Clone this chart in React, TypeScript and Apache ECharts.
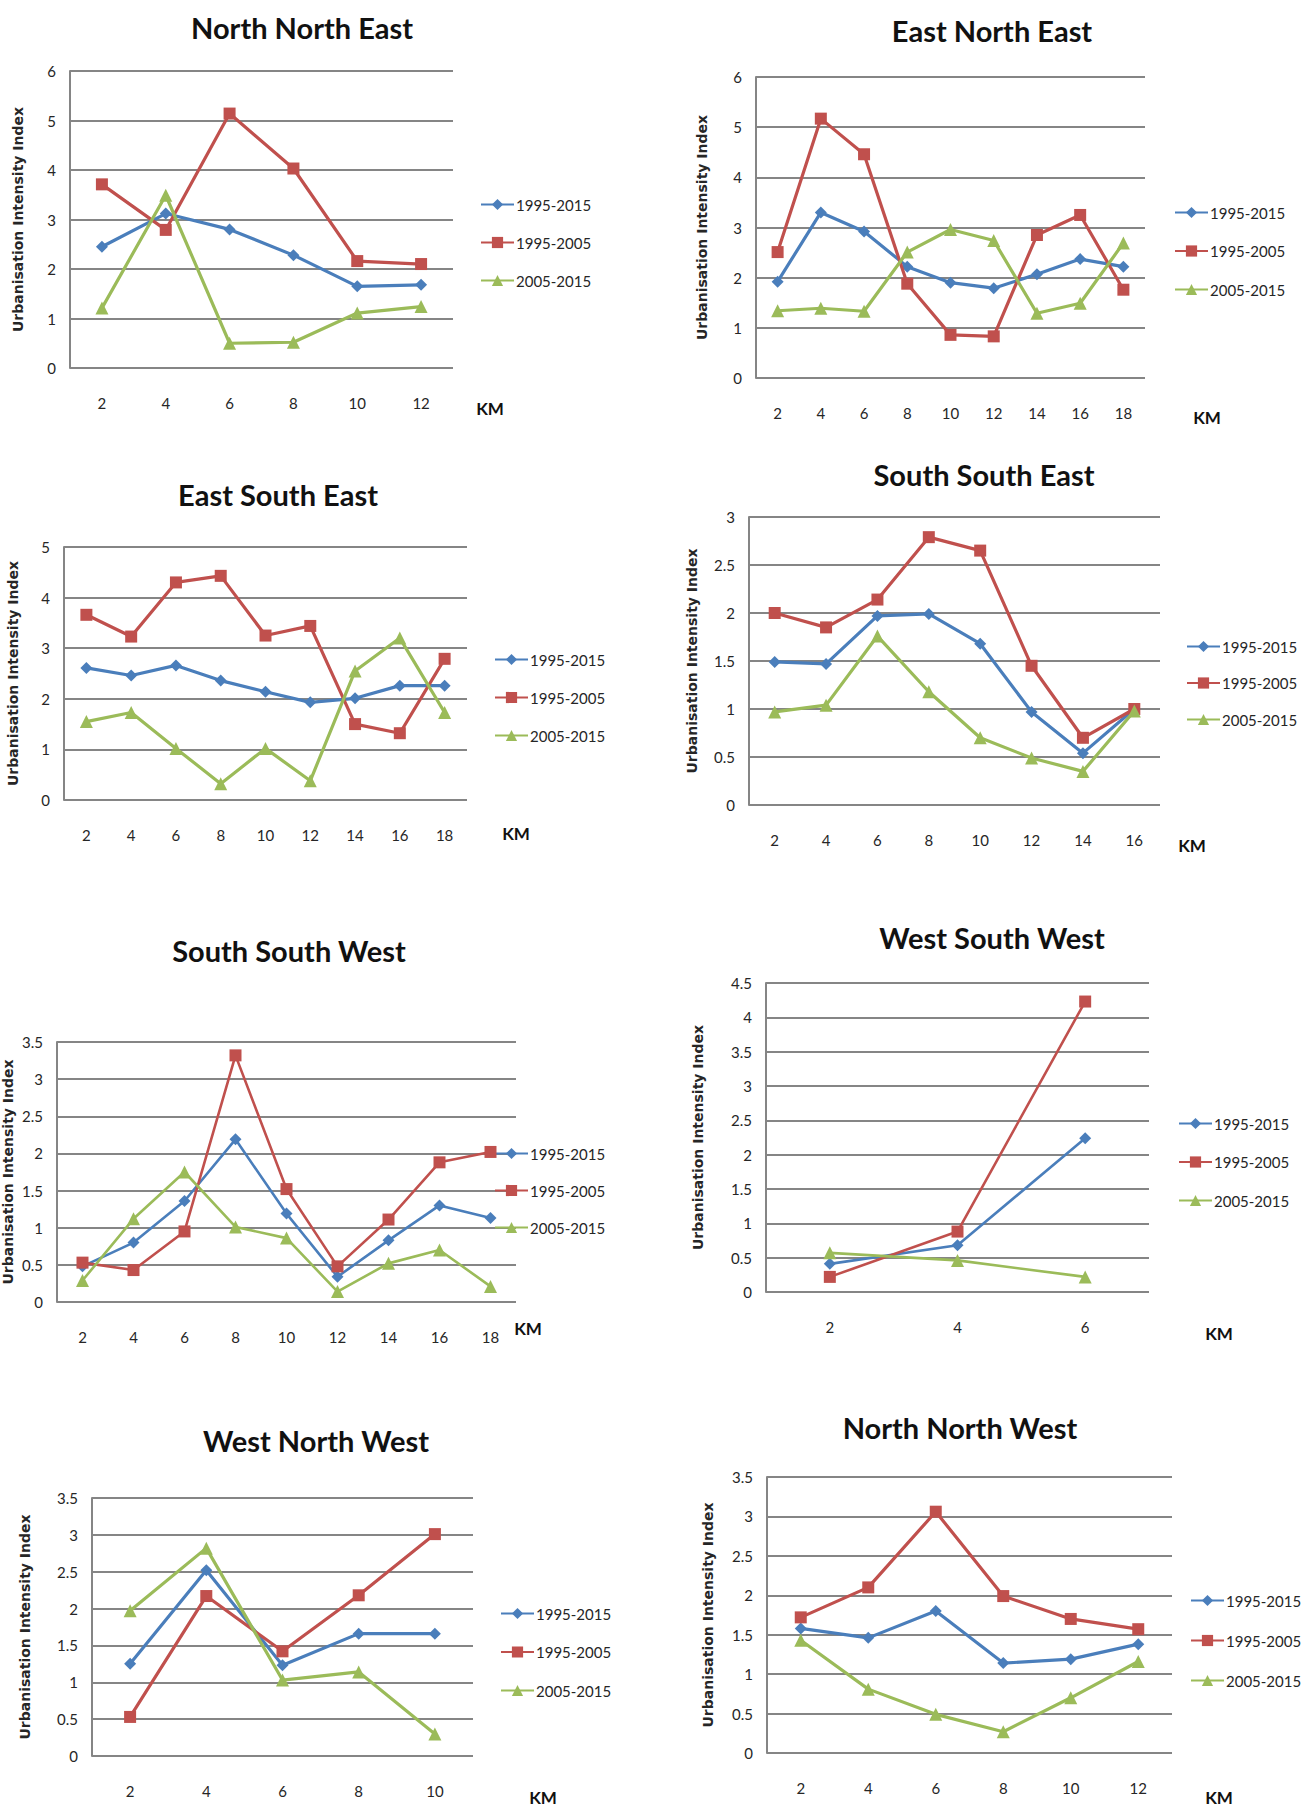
import React, { useEffect, useRef } from "react";
import * as echarts from "echarts";

// Legend / series names shared by every panel
const PERIODS = ["1995-2015", "1995-2005", "2005-2015"];
const COLORS = ["#4A7EBB", "#C0504D", "#9BBB59"];
const SYMBOLS = ["diamond", "rect", "triangle"];
const SYMBOL_SIZES = [12, 12, 13];

// North North East
const kmNNE = ["2", "4", "6", "8", "10", "12"];
const nne9515 = [2.45, 3.12, 2.8, 2.28, 1.65, 1.68];
const nne9505 = [3.71, 2.79, 5.14, 4.03, 2.16, 2.1];
const nne0515 = [1.21, 3.49, 0.5, 0.52, 1.11, 1.24];

// East North East
const kmENE = ["2", "4", "6", "8", "10", "12", "14", "16", "18"];
const ene9515 = [1.92, 3.3, 2.92, 2.22, 1.9, 1.79, 2.07, 2.37, 2.22];
const ene9505 = [2.51, 5.17, 4.46, 1.88, 0.86, 0.83, 2.85, 3.25, 1.76];
const ene0515 = [1.34, 1.39, 1.33, 2.51, 2.96, 2.74, 1.29, 1.49, 2.69];

// East South East
const kmESE = ["2", "4", "6", "8", "10", "12", "14", "16", "18"];
const ese9515 = [2.61, 2.46, 2.66, 2.36, 2.14, 1.93, 2.01, 2.26, 2.26];
const ese9505 = [3.66, 3.23, 4.3, 4.43, 3.25, 3.44, 1.5, 1.32, 2.79];
const ese0515 = [1.55, 1.73, 1.02, 0.32, 1.02, 0.38, 2.55, 3.2, 1.73];

// South South East
const kmSSE = ["2", "4", "6", "8", "10", "12", "14", "16"];
const sse9515 = [1.49, 1.47, 1.97, 1.99, 1.68, 0.97, 0.54, 1.0];
const sse9505 = [2.0, 1.85, 2.14, 2.79, 2.65, 1.45, 0.7, 1.0];
const sse0515 = [0.97, 1.04, 1.76, 1.18, 0.7, 0.49, 0.35, 0.98];

// South South West
const kmSSW = ["2", "4", "6", "8", "10", "12", "14", "16", "18"];
const ssw9515 = [0.48, 0.8, 1.36, 2.19, 1.19, 0.34, 0.83, 1.3, 1.13];
const ssw9505 = [0.53, 0.43, 0.95, 3.32, 1.52, 0.48, 1.11, 1.88, 2.02];
const ssw0515 = [0.29, 1.12, 1.75, 1.01, 0.86, 0.14, 0.52, 0.7, 0.21];

// West South West
const kmWSW = ["2", "4", "6"];
const wsw9515 = [0.41, 0.68, 2.24];
const wsw9505 = [0.22, 0.88, 4.23];
const wsw0515 = [0.57, 0.46, 0.22];

// West North West
const kmWNW = ["2", "4", "6", "8", "10"];
const wnw9515 = [1.25, 2.52, 1.23, 1.66, 1.66];
const wnw9505 = [0.53, 2.17, 1.42, 2.18, 3.01];
const wnw0515 = [1.97, 2.82, 1.03, 1.14, 0.3];

// North North West
const kmNNW = ["2", "4", "6", "8", "10", "12"];
const nnw9515 = [1.58, 1.46, 1.8, 1.14, 1.19, 1.38];
const nnw9505 = [1.72, 2.1, 3.06, 1.99, 1.7, 1.57];
const nnw0515 = [1.43, 0.81, 0.49, 0.27, 0.7, 1.16];

// Panel content
const panels = [
  { title: "North North East", km: kmNNE, values: [nne9515, nne9505, nne0515], yMax: 6, yStep: 1 },
  { title: "East North East", km: kmENE, values: [ene9515, ene9505, ene0515], yMax: 6, yStep: 1 },
  { title: "East South East", km: kmESE, values: [ese9515, ese9505, ese0515], yMax: 5, yStep: 1 },
  { title: "South South East", km: kmSSE, values: [sse9515, sse9505, sse0515], yMax: 3, yStep: 0.5 },
  { title: "South South West", km: kmSSW, values: [ssw9515, ssw9505, ssw0515], yMax: 3.5, yStep: 0.5 },
  { title: "West South West", km: kmWSW, values: [wsw9515, wsw9505, wsw0515], yMax: 4.5, yStep: 0.5 },
  { title: "West North West", km: kmWNW, values: [wnw9515, wnw9505, wnw0515], yMax: 3.5, yStep: 0.5 },
  { title: "North North West", km: kmNNW, values: [nnw9515, nnw9505, nnw0515], yMax: 3.5, yStep: 0.5 },
];

// Panel placement on the page: grid = [left, top, width, height]
const layouts = [
  { grid: [70, 71, 383, 297], titleAt: [302, 27], kmAt: [490, 408], legendAt: [480, 204], legendStep: 37, nameGap: 45, lineW: 3.2 },
  { grid: [756, 77, 389, 301], titleAt: [992, 30], kmAt: [1207, 417], legendAt: [1174, 212], legendStep: 37.5, nameGap: 47, lineW: 3.2 },
  { grid: [64, 547, 403, 253], titleAt: [278, 494], kmAt: [516, 833], legendAt: [494, 659], legendStep: 37, nameGap: 44, lineW: 3.2 },
  { grid: [749, 517, 411, 288], titleAt: [984, 474], kmAt: [1192, 845], legendAt: [1186, 646], legendStep: 35.5, nameGap: 50, lineW: 3.2 },
  { grid: [53, 1042, 463, 260], titleAt: [289, 950], kmAt: [528, 1328], legendAt: [494, 1153], legendStep: 36, nameGap: 42, lineW: 2.6 },
  { grid: [766, 983, 383, 309], titleAt: [992, 937], kmAt: [1219, 1333], legendAt: [1178, 1123], legendStep: 37.5, nameGap: 61, lineW: 2.6 },
  { grid: [92, 1498, 381, 258], titleAt: [316, 1440], kmAt: [543, 1797], legendAt: [500, 1613], legendStep: 37.5, nameGap: 60, lineW: 3.2 },
  { grid: [767, 1477, 405, 276], titleAt: [960, 1427], kmAt: [1219, 1797], legendAt: [1190, 1600], legendStep: 39, nameGap: 52, lineW: 3.2 },
];

const GRID_COLOR = "#858585";
const TEXT_COLOR = "#262626";
const LEGEND_ITEM_H = 14;

function buildOption() {
  const grid: any[] = [];
  const xAxis: any[] = [];
  const yAxis: any[] = [];
  const series: any[] = [];
  const legend: any[] = [];
  const graphic: any[] = [];

  panels.forEach((p, i) => {
    const L = layouts[i];
    const [left, top, width, height] = L.grid;
    grid.push({ left, top, width, height, containLabel: false });

    xAxis.push({
      type: "category",
      gridIndex: i,
      data: p.km,
      boundaryGap: true,
      axisLine: { show: false },
      axisTick: { show: false },
      axisLabel: { margin: 27, fontFamily: "Lato", fontSize: 15, color: TEXT_COLOR },
      splitLine: { show: false },
    });

    yAxis.push({
      type: "value",
      gridIndex: i,
      min: 0,
      max: p.yMax,
      interval: p.yStep,
      name: "Urbanisation Intensity Index",
      nameLocation: "middle",
      nameGap: L.nameGap,
      nameTextStyle: {
        fontFamily: "DejaVu Sans",
        fontWeight: "bold",
        fontSize: 14,
        color: TEXT_COLOR,
      },
      axisLine: { show: true, lineStyle: { color: GRID_COLOR, width: 2 } },
      axisTick: { show: false },
      axisLabel: { margin: 14, fontFamily: "Lato", fontSize: 15, color: TEXT_COLOR },
      splitLine: { show: true, lineStyle: { color: GRID_COLOR, width: 2 } },
    });

    p.values.forEach((vals, k) => {
      series.push({
        type: "line",
        name: PERIODS[k],
        xAxisIndex: i,
        yAxisIndex: i,
        data: vals,
        symbol: SYMBOLS[k],
        symbolSize: SYMBOL_SIZES[k],
        itemStyle: { color: COLORS[k] },
        lineStyle: { color: COLORS[k], width: L.lineW },
        z: 3 + k,
      });
    });

    legend.push({
      orient: "vertical",
      left: L.legendAt[0],
      top: L.legendAt[1] - LEGEND_ITEM_H / 2,
      itemWidth: 33,
      itemHeight: LEGEND_ITEM_H,
      itemGap: L.legendStep - LEGEND_ITEM_H,
      padding: 0,
      data: PERIODS,
      textStyle: { fontFamily: "Lato", fontSize: 15, color: TEXT_COLOR, padding: [0, 0, 0, -3] },
    });

    graphic.push({
      type: "text",
      x: L.titleAt[0],
      y: L.titleAt[1],
      style: {
        text: p.title,
        font: "bold 29px Lato",
        fill: "#111",
        align: "center",
        verticalAlign: "middle",
      },
    });

    graphic.push({
      type: "text",
      x: L.kmAt[0],
      y: L.kmAt[1],
      style: {
        text: "KM",
        font: "bold 17px Lato",
        fill: "#111",
        align: "center",
        verticalAlign: "middle",
      },
    });
  });

  return {
    animation: false,
    backgroundColor: "#ffffff",
    grid,
    xAxis,
    yAxis,
    series,
    legend,
    graphic,
  };
}

export default function App() {
  const ref = useRef<HTMLDivElement>(null);

  useEffect(() => {
    if (!ref.current) return;
    const chart = echarts.init(ref.current, undefined, { renderer: "svg" });
    chart.setOption(buildOption());
    return () => chart.dispose();
  }, []);

  return (
    <div
      ref={ref}
      style={{ position: "absolute", left: 0, top: 0, width: 1310, height: 1809, background: "#fff" }}
    />
  );
}
